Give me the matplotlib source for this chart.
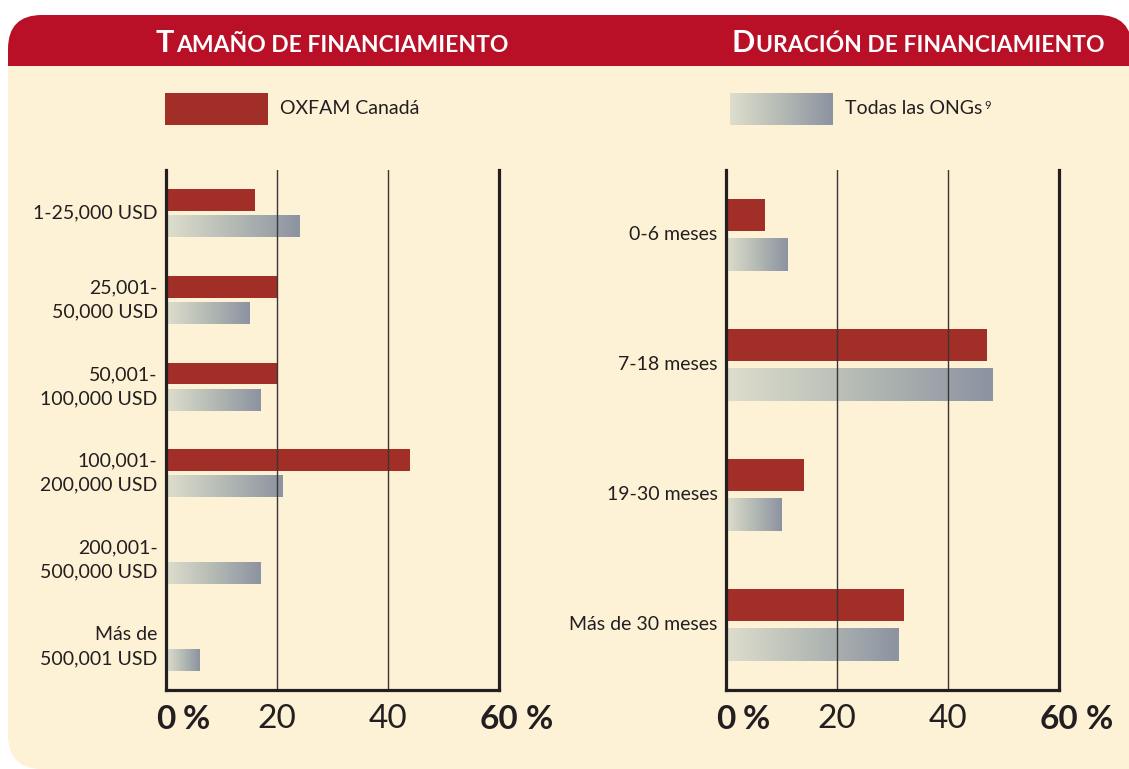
import numpy as np
import matplotlib.pyplot as plt
from matplotlib.patches import FancyBboxPatch, Rectangle
from matplotlib.colors import LinearSegmentedColormap

plt.rcParams['font.family'] = ['Lato', 'DejaVu Sans']

# datos
size_labels = ['1-25,000 USD', '25,001-\n50,000 USD', '50,001-\n100,000 USD',
               '100,001-\n200,000 USD', '200,001-\n500,000 USD', 'Más de\n500,001 USD']
size_oxfam = [16, 20, 20, 44, 0, 0]
size_ongs = [24, 15, 17, 21, 17, 6]

dur_labels = ['0-6 meses', '7-18 meses', '19-30 meses', 'Más de 30 meses']
dur_oxfam = [7, 47, 14, 32]
dur_ongs = [11, 48, 10, 31]

x_ticks = [0, 20, 40, 60]
x_tick_labels = ['0', '20', '40', '60']
x_tick_bold = [True, False, False, True]

cream = '#FDF1D6'
header_red = '#BA1027'
bar_red = '#A12E27'
ink = '#231F20'
cmap = LinearSegmentedColormap.from_list('gris', ['#DEDECD', '#B4BAB4', '#8C93A1'])
grad = np.linspace(0, 1, 256).reshape(1, -1)

fig = plt.figure(figsize=(11.29, 7.69), dpi=100)
fig.patch.set_facecolor('white')

# fondo, cabecera y leyenda
bg = fig.add_axes([0, 0, 1, 1], zorder=0)
bg.axis('off')
bg.add_patch(FancyBboxPatch((8, 15), 1124, 754, boxstyle='round,pad=0,rounding_size=34',
                            fc=cream, ec='none'))
bg.add_patch(Rectangle((1000, 700), 200, 100, fc=cream, ec='none'))
bg.add_patch(FancyBboxPatch((8, 15), 1124, 100, boxstyle='round,pad=0,rounding_size=34',
                            fc=header_red, ec='none'))
bg.add_patch(Rectangle((8, 66), 1200, 80, fc=cream, ec='none'))

for x0, first, rest in [(156, 'T', 'AMAÑO DE FINANCIAMIENTO'),
                        (731, 'D', 'URACIÓN DE FINANCIAMIENTO')]:
    t = bg.text(x0, 52, first, fontsize=22, fontweight='bold', color='white', va='baseline')
    bg.annotate(rest, xy=(1, 0), xycoords=t, xytext=(1.5, 1), textcoords='offset points',
                va='bottom', ha='left', fontsize=16.5, fontweight='bold', color='white')

bg.add_patch(Rectangle((165, 93), 103, 32, fc=bar_red, ec='none'))
bg.imshow(grad, cmap=cmap, aspect='auto', extent=(730, 833, 125, 93), zorder=2)
bg.text(280, 109, 'OXFAM Canadá', fontsize=14, color=ink, va='center')
t = bg.text(845, 109, 'Todas las ONGs', fontsize=14, color=ink, va='center')
bg.annotate('9', xy=(1, 0.72), xycoords=t, xytext=(1.5, 0), textcoords='offset points',
            va='center', ha='left', fontsize=8, color=ink)
bg.set_xlim(0, 1129)
bg.set_ylim(769, 0)


def draw_panel(rect, labels, oxfam, ongs):
    ax = fig.add_axes(rect, zorder=2)
    ax.set_facecolor('none')
    y = np.arange(len(labels))
    ax.barh(y - 0.152, oxfam, height=0.25, color=bar_red, zorder=2)
    bars = ax.barh(y + 0.152, ongs, height=0.25, color='none', zorder=2)
    for b in bars:
        w = b.get_width()
        if w <= 0:
            continue
        ax.imshow(grad, cmap=cmap, aspect='auto', interpolation='bicubic', zorder=2,
                  extent=(b.get_x(), b.get_x() + w, b.get_y() + b.get_height(), b.get_y()))
    for xv in x_ticks[1:-1]:
        ax.axvline(xv, color='#3b3633', lw=1.0, zorder=3)
    ax.set_xlim(0, 60)
    ax.set_ylim(len(labels) - 0.5, -0.5)
    ax.set_xticks([])
    ax.set_yticks(y, labels, fontsize=14, color=ink, linespacing=1.5)
    for tl in ax.get_yticklabels():
        tl.set_verticalalignment('center')
    ax.tick_params(axis='y', length=0, pad=6)
    ax.spines['top'].set_visible(False)
    for s in ['left', 'right', 'bottom']:
        ax.spines[s].set_linewidth(2.3)
        ax.spines[s].set_color(ink)
        ax.spines[s].set_zorder(4)
    for xv, lab, bold in zip(x_ticks, x_tick_labels, x_tick_bold):
        w = 'bold' if bold else 'normal'
        t = ax.text(xv, -0.056, lab, transform=ax.get_xaxis_transform(), ha='center',
                    va='center', fontsize=24, fontweight=w, color=ink)
        if bold:
            ax.annotate('%', xy=(1, 0), xycoords=t, xytext=(5, 0), textcoords='offset points',
                        va='bottom', ha='left', fontsize=24, fontweight='bold', color=ink)
    return ax


draw_panel([166 / 1129, 79 / 769, 333 / 1129, 520 / 769], size_labels, size_oxfam, size_ongs)
draw_panel([726 / 1129, 79 / 769, 333 / 1129, 520 / 769], dur_labels, dur_oxfam, dur_ongs)

plt.savefig('out.png', dpi=100, facecolor='white')
